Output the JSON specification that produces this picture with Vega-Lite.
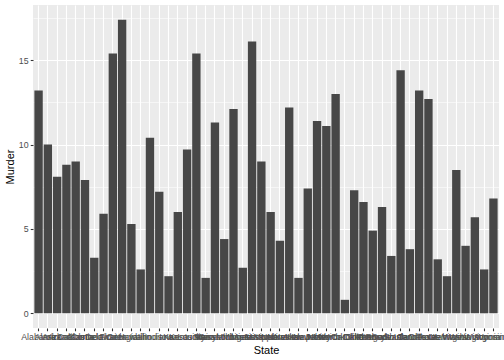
{
  "$schema": "https://vega.github.io/schema/vega-lite/v6.json",
  "width": 466,
  "height": 323,
  "autosize": "none",
  "padding": {"left": 33, "top": 5, "right": 5, "bottom": 32},
  "background": "white",
  "config": {
    "view": {"fill": "#EBEBEB", "stroke": null},
    "font": "Liberation Sans",
    "axis": {
      "domain": false,
      "gridColor": "white",
      "gridWidth": 1.1,
      "tickColor": "#333333",
      "tickSize": 2.75,
      "tickWidth": 1.07,
      "labelColor": "#4D4D4D",
      "labelFontSize": 8.8,
      "labelPadding": 2.2,
      "titleFontSize": 11,
      "titleFontWeight": "normal",
      "titleColor": "black"
    }
  },
  "data": {
    "values": [
      {"State": "Alabama", "Murder": 13.2},
      {"State": "Alaska", "Murder": 10.0},
      {"State": "Arizona", "Murder": 8.1},
      {"State": "Arkansas", "Murder": 8.8},
      {"State": "California", "Murder": 9.0},
      {"State": "Colorado", "Murder": 7.9},
      {"State": "Connecticut", "Murder": 3.3},
      {"State": "Delaware", "Murder": 5.9},
      {"State": "Florida", "Murder": 15.4},
      {"State": "Georgia", "Murder": 17.4},
      {"State": "Hawaii", "Murder": 5.3},
      {"State": "Idaho", "Murder": 2.6},
      {"State": "Illinois", "Murder": 10.4},
      {"State": "Indiana", "Murder": 7.2},
      {"State": "Iowa", "Murder": 2.2},
      {"State": "Kansas", "Murder": 6.0},
      {"State": "Kentucky", "Murder": 9.7},
      {"State": "Louisiana", "Murder": 15.4},
      {"State": "Maine", "Murder": 2.1},
      {"State": "Maryland", "Murder": 11.3},
      {"State": "Massachusetts", "Murder": 4.4},
      {"State": "Michigan", "Murder": 12.1},
      {"State": "Minnesota", "Murder": 2.7},
      {"State": "Mississippi", "Murder": 16.1},
      {"State": "Missouri", "Murder": 9.0},
      {"State": "Montana", "Murder": 6.0},
      {"State": "Nebraska", "Murder": 4.3},
      {"State": "Nevada", "Murder": 12.2},
      {"State": "New Hampshire", "Murder": 2.1},
      {"State": "New Jersey", "Murder": 7.4},
      {"State": "New Mexico", "Murder": 11.4},
      {"State": "New York", "Murder": 11.1},
      {"State": "North Carolina", "Murder": 13.0},
      {"State": "North Dakota", "Murder": 0.8},
      {"State": "Ohio", "Murder": 7.3},
      {"State": "Oklahoma", "Murder": 6.6},
      {"State": "Oregon", "Murder": 4.9},
      {"State": "Pennsylvania", "Murder": 6.3},
      {"State": "Rhode Island", "Murder": 3.4},
      {"State": "South Carolina", "Murder": 14.4},
      {"State": "South Dakota", "Murder": 3.8},
      {"State": "Tennessee", "Murder": 13.2},
      {"State": "Texas", "Murder": 12.7},
      {"State": "Utah", "Murder": 3.2},
      {"State": "Vermont", "Murder": 2.2},
      {"State": "Virginia", "Murder": 8.5},
      {"State": "Washington", "Murder": 4.0},
      {"State": "West Virginia", "Murder": 5.7},
      {"State": "Wisconsin", "Murder": 2.6},
      {"State": "Wyoming", "Murder": 6.8}
    ]
  },
  "encoding": {
    "x": {
      "field": "State",
      "type": "nominal",
      "sort": null,
      "scale": {"paddingInner": 0.1, "paddingOuter": 0.15},
      "axis": {"labelAngle": 0, "grid": true, "bandPosition": 0.5, "titlePadding": 2.5, "labelOverlap": false}
    }
  },
  "layer": [
    {
      "mark": {"type": "bar", "opacity": 0},
      "encoding": {
        "y": {
          "field": "Murder",
          "type": "quantitative",
          "scale": {"domain": [-0.87, 18.27], "nice": false, "zero": false},
          "axis": {"orient": "right", "values": [2.5, 7.5, 12.5, 17.5], "grid": true, "gridWidth": 0.55, "labels": false, "ticks": false, "title": null}
        }
      }
    },
    {
      "mark": {"type": "bar", "color": "#474747"},
      "encoding": {
        "y": {
          "field": "Murder",
          "type": "quantitative",
          "scale": {"domain": [-0.87, 18.27], "nice": false, "zero": false},
          "axis": {"values": [0, 5, 10, 15], "grid": true, "title": "Murder", "titlePadding": 3}
        },
        "y2": {"datum": 0}
      }
    }
  ],
  "resolve": {"axis": {"y": "independent"}}
}
